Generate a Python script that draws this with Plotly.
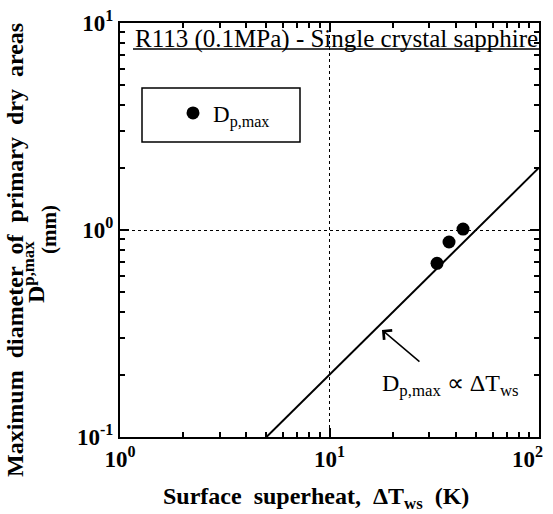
import math
import plotly.graph_objects as go

# Data
dT_ws = [32.6, 37.2, 43.4]          # surface superheat (K)
D_pmax = [0.69, 0.875, 1.01]        # max diameter of primary dry areas (mm)
fit_x = [1.0, 100.0]                # proportionality line D ∝ ΔT
fit_coef = 0.02
fit_y = [fit_coef * v for v in fit_x]
arrow_tip = (17.8, 0.329)           # point the arrow indicates on the line

x_tickvals = [1, 10, 100]
x_ticktext = ["10<sup>0</sup>", "10<sup>1</sup>", "10<sup>2</sup>&nbsp;&nbsp;&nbsp;&nbsp;"]
y_tickvals = [0.1, 1, 10]
y_ticktext = ["10<sup>-1</sup>", "10<sup>0</sup>", "10<sup>1</sup>"]
x_minor = [m * d for d in (1, 10) for m in range(2, 10)]
y_minor = [m * d for d in (0.1, 1) for m in range(2, 10)]

FONT = "Liberation Serif"
L, R, T, B = 120, 14, 23, 77
W, H = 553, 514
PW, PH = W - L - R, H - T - B

def px(x):
    return (x - L) / PW

def py(y):
    return (H - B - y) / PH

fig = go.Figure()
fig.add_trace(go.Scatter(x=fit_x, y=fit_y, mode="lines",
                         line=dict(color="black", width=2), showlegend=False))
fig.add_trace(go.Scatter(x=dT_ws, y=D_pmax, mode="markers",
                         marker=dict(color="black", size=13, symbol="circle"),
                         name="D<sub>p,max</sub>"))

axis_common = dict(type="log", showline=True, linecolor="black", linewidth=2,
                   mirror="allticks", ticks="inside", ticklen=9, tickwidth=2,
                   tickcolor="black", showgrid=True, gridcolor="black",
                   griddash="dot", gridwidth=1, zeroline=False,
                   ticklabeloverflow="allow", automargin=False,
                   tickfont=dict(family=FONT, size=23, color="black", weight="bold"))

fig.update_xaxes(range=[0, 2], tickmode="array", tickvals=x_tickvals, ticktext=x_ticktext,
                 minor=dict(tickmode="array", tickvals=x_minor, ticks="inside",
                            ticklen=5, tickwidth=2, tickcolor="black", showgrid=False),
                 **axis_common)
fig.update_yaxes(range=[-1, 1], tickmode="array", tickvals=y_tickvals, ticktext=y_ticktext,
                 minor=dict(tickmode="array", tickvals=y_minor, ticks="inside",
                            ticklen=5, tickwidth=2, tickcolor="black", showgrid=False),
                 **axis_common)

# Legend box
fig.add_shape(type="rect", xref="paper", yref="paper",
              x0=px(142), x1=px(300), y0=py(142), y1=py(88),
              line=dict(color="black", width=1.5), fillcolor="white", layer="below")

# title underline
fig.add_shape(type="line", xref="paper", yref="paper",
              x0=px(133), x1=1, y0=py(49), y1=py(49),
              line=dict(color="black", width=1.5))

ann = []
ann.append(dict(text="R113 (0.1MPa) - Single crystal sapphire", xref="paper", yref="paper",
                x=px(133), y=py(39), xanchor="left", yanchor="middle", showarrow=False,
                font=dict(family=FONT, size=25, color="black")))
# arrow (annotation coordinates on log axes are log10 values)
ann.append(dict(text=" ", x=math.log10(arrow_tip[0]), y=math.log10(arrow_tip[1]),
                xref="x", yref="y", ax=39, ay=33,
                showarrow=True, arrowhead=4, arrowsize=1.6, arrowwidth=1.5,
                arrowcolor="black", font=dict(size=1)))
ann.append(dict(text="D<sub>p,max</sub> ∝ ΔT<sub>ws</sub>", xref="paper", yref="paper",
                x=px(450), y=py(385), xanchor="center", yanchor="middle", showarrow=False,
                font=dict(family=FONT, size=24, color="black")))
# x title
ann.append(dict(text="<b>Surface&nbsp;&nbsp;superheat,&nbsp;&nbsp;ΔT<sub>ws</sub>&nbsp;&nbsp;(K)</b>",
                xref="paper", yref="paper", x=px(316), y=py(498), xanchor="center",
                yanchor="middle", showarrow=False,
                font=dict(family=FONT, size=24, color="black")))
# y title
ann.append(dict(text="<b>Maximum&nbsp;&nbsp;diameter&nbsp;&nbsp;of&nbsp;&nbsp;primary&nbsp;&nbsp;dry&nbsp;&nbsp;areas</b>",
                xref="paper", yref="paper", x=px(15), y=py(250), xanchor="center",
                yanchor="middle", textangle=-90, showarrow=False,
                font=dict(family=FONT, size=24, color="black")))
ann.append(dict(text="<b>D<sup>p,max</sup></b>", xref="paper", yref="paper",
                x=px(34), y=py(272), xanchor="center", yanchor="middle", textangle=-90,
                showarrow=False, font=dict(family=FONT, size=24, color="black")))
ann.append(dict(text="<b>(mm)</b>", xref="paper", yref="paper",
                x=px(49), y=py(230), xanchor="center", yanchor="middle", textangle=-90,
                showarrow=False, font=dict(family=FONT, size=21, color="black")))

fig.update_layout(
    width=W, height=H, margin=dict(l=L, r=R, t=T, b=B, autoexpand=False),
    plot_bgcolor="white", paper_bgcolor="white",
    annotations=ann,
    showlegend=True,
    legend=dict(x=px(173), y=py(113), xanchor="left", yanchor="middle",
                bgcolor="rgba(0,0,0,0)", borderwidth=0,
                font=dict(family=FONT, size=23, color="black")),
)

fig.write_html("out.html")
